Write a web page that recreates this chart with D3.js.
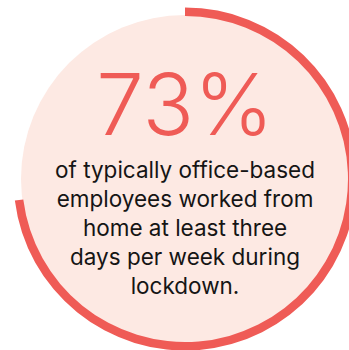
<!DOCTYPE html>
<html lang="en">
<head>
    <meta charset="UTF-8">
    <title>73% worked from home</title>
    <script src="https://d3js.org/d3.v7.min.js"></script>
    <style>
        body {
            margin: 0;
            padding: 0;
            background: #fff;
        }
        svg {
            display: block;
        }
    </style>
</head>
<body>
    <svg width="349" height="350"></svg>
    <script>
        const share = [73];
        const headline = ["73%"];
        const lines = [
            "of typically office-based",
            "employees worked from",
            "home at least three",
            "days per week during",
            "lockdown."
        ];

        const svg = d3.select("svg");
        const cx = 185, cy = 179;
        const innerR = 163, outerR = 171.5;

        const g = svg.append("g")
            .attr("transform", `translate(${cx},${cy})`);

        // background disc
        g.append("circle")
            .attr("r", 164)
            .attr("fill", "#fde9e3");

        // progress ring
        const angle = d3.scaleLinear().domain([0, 100]).range([0, 2 * Math.PI]);
        const arc = d3.arc()
            .innerRadius(innerR)
            .outerRadius(outerR)
            .startAngle(0);

        g.selectAll(".ring")
            .data(share)
            .enter().append("path")
            .attr("class", "ring")
            .attr("d", d => arc({endAngle: angle(d)}))
            .attr("fill", "#ef5b56");

        g.selectAll(".big")
            .data(headline)
            .enter().append("text")
            .attr("class", "big")
            .attr("x", 0)
            .attr("y", 135 - cy)
            .attr("text-anchor", "middle")
            .style("font-family", "Inter, 'Noto Sans', sans-serif")
            .style("font-weight", 300)
            .style("font-size", "85px")
            .style("fill", "#ef5b56")
            .text(d => d);

        const lineY = d3.scaleLinear().domain([0, 1]).range([178 - cy, 207 - cy]);

        g.selectAll(".body")
            .data(lines)
            .enter().append("text")
            .attr("class", "body")
            .attr("x", 0)
            .attr("y", (d, i) => lineY(i))
            .attr("text-anchor", "middle")
            .style("font-family", "Inter, 'Noto Sans', sans-serif")
            .style("font-size", "22.5px")
            .style("fill", "#151515")
            .text(d => d);
    </script>
</body>
</html>
